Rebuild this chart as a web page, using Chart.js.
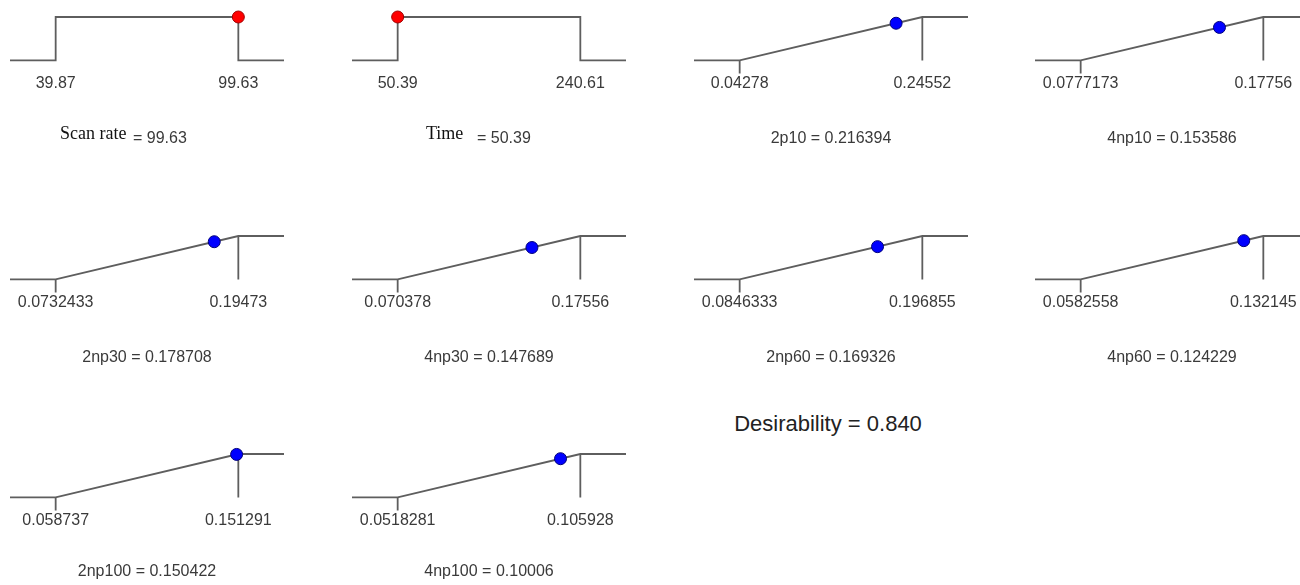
<!DOCTYPE html>
<html>
<head>
<meta charset="utf-8">
<script src="https://cdn.jsdelivr.net/npm/chart.js@4.4.1/dist/chart.umd.min.js"></script>
<style>
  html, body { margin: 0; padding: 0; background: #ffffff; }
  body { width: 1300px; height: 585px; overflow: hidden; position: relative; }
  canvas.panel { position: absolute; }
  #desirability {
    position: absolute; white-space: nowrap;
    font-family: Arial, "Liberation Sans", sans-serif; font-size: 22px; line-height: 22px;
    color: #222222; transform: translateX(-50%);
  }
</style>
</head>
<body>
<div id="desirability"></div>
<script>
// ---------------- data ----------------
const factorNames  = ["Scan rate", "Time", "2p10", "4np10", "2np30", "4np30", "2np60", "4np60", "2np100", "4np100"];
const goals        = ["range", "range", "maximize", "maximize", "maximize", "maximize", "maximize", "maximize", "maximize", "maximize"];
const lowLimits    = [39.87, 50.39, 0.04278, 0.0777173, 0.0732433, 0.070378, 0.0846333, 0.0582558, 0.058737, 0.0518281];
const highLimits   = [99.63, 240.61, 0.24552, 0.17756, 0.19473, 0.17556, 0.196855, 0.132145, 0.151291, 0.105928];
const optimumValues= [99.63, 50.39, 0.216394, 0.153586, 0.178708, 0.147689, 0.169326, 0.124229, 0.150422, 0.10006];
const lowLabels    = ["39.87", "50.39", "0.04278", "0.0777173", "0.0732433", "0.070378", "0.0846333", "0.0582558", "0.058737", "0.0518281"];
const highLabels   = ["99.63", "240.61", "0.24552", "0.17756", "0.19473", "0.17556", "0.196855", "0.132145", "0.151291", "0.105928"];
const valueLabels  = ["99.63", "50.39", "0.216394", "0.153586", "0.178708", "0.147689", "0.169326", "0.124229", "0.150422", "0.10006"];
const overallDesirabilityLabel = "0.840";

// ---------------- style / layout ----------------
const SANS = 'Arial, "Liberation Sans", sans-serif';
const SERIF = '"Times New Roman", "Liberation Serif", serif';
const PAD_L = 30, PAD_R = 30, PAD_T = 12, PAD_B = 4;
const AREA_W = 274, AREA_H = 43;
const EXT = 0.25;                 // horizontal extension of the response line beyond the limits
const colLefts = [10, 352, 694, 1035];
const rowTops = [17, 236, 454];
const rowTitleGap = [78, 78, 74]; // chart-area bottom to title centre
const TICK_PAD = 14, TICK_FONT = 16, TITLE_FONT = 16;
const TEXT_COLOR = "#3a3a3a";
const LINE_COLOR = "#5e5e5e";
const redDot = { fill: "#ff0000", border: "#a00000" };
const blueDot = { fill: "#0000ff", border: "#00007a" };
const splitTitleStyle = {
  "Scan rate": { nameDx: 50, nameDy: -4, valueDx: 123, nameSize: 18 },
  "Time":      { nameDx: 74, nameDy: -4, valueDx: 125, nameSize: 18 }
};
const desirabilityPos = { x: 828, y: 413 };

// plugin for titles mixing a serif name and a sans value
const splitTitlePlugin = {
  id: "splitTitle",
  afterDraw(chart, args, opts) {
    if (!opts || !opts.name) return;
    const ctx = chart.ctx, a = chart.chartArea;
    const cy = a.bottom + opts.gap;
    ctx.save();
    ctx.textBaseline = "middle";
    ctx.textAlign = "left";
    ctx.fillStyle = "#111111";
    ctx.font = opts.nameSize + "px " + SERIF;
    ctx.fillText(opts.name, a.left + opts.nameDx, cy + opts.nameDy);
    ctx.fillStyle = TEXT_COLOR;
    ctx.font = TITLE_FONT + "px " + SANS;
    ctx.fillText(opts.value, a.left + opts.valueDx, cy);
    ctx.restore();
  }
};

function buildPanel(i) {
  const col = i % 4, row = Math.floor(i / 4);
  const low = lowLimits[i], high = highLimits[i], span = high - low;
  const xmin = low - EXT * span, xmax = high + EXT * span;
  const v = optimumValues[i];
  const isRange = goals[i] === "range";
  const d = isRange ? 1 : (v - low) / span;

  const datasets = [];
  if (isRange) {
    datasets.push({ data: [{x: xmin, y: 0}, {x: low, y: 0}, {x: low, y: 1}, {x: high, y: 1}, {x: high, y: 0}, {x: xmax, y: 0}] });
  } else {
    datasets.push({ data: [{x: xmin, y: 0}, {x: low, y: 0}, {x: high, y: 1}, {x: xmax, y: 1}] });
    datasets.push({ data: [{x: low, y: 0}, {x: low, y: -0.3}] });
    datasets.push({ data: [{x: high, y: 1}, {x: high, y: 0}] });
  }
  datasets.forEach(ds => Object.assign(ds, {
    showLine: true, borderColor: LINE_COLOR, borderWidth: 1.8, pointRadius: 0,
    tension: 0, clip: false, order: 2
  }));
  const dot = isRange ? redDot : blueDot;
  datasets.push({
    data: [{x: v, y: d}], showLine: false, pointRadius: 6, pointHoverRadius: 6,
    pointBackgroundColor: dot.fill, pointBorderColor: dot.border, pointBorderWidth: 1,
    clip: false, order: 1
  });

  const split = splitTitleStyle[factorNames[i]];
  const gap = rowTitleGap[row];
  const tickAxisH = TICK_PAD * 2 + TICK_FONT * 1.2;
  const titleLH = TITLE_FONT * 1.2;
  const titlePadTop = gap - tickAxisH - titleLH / 2;
  const H = Math.round(PAD_T + AREA_H + tickAxisH + titleLH + titlePadTop + PAD_B);

  const canvas = document.createElement("canvas");
  canvas.className = "panel";
  const W = AREA_W + PAD_L + PAD_R;
  canvas.width = W; canvas.height = H;
  canvas.style.width = W + "px"; canvas.style.height = H + "px";
  canvas.style.left = (colLefts[col] - PAD_L) + "px";
  canvas.style.top = (rowTops[row] - PAD_T) + "px";
  document.body.appendChild(canvas);

  new Chart(canvas, {
    type: "scatter",
    data: { datasets },
    plugins: [splitTitlePlugin],
    options: {
      responsive: false, animation: false, devicePixelRatio: 1,
      layout: { padding: { left: PAD_L, right: PAD_R, top: PAD_T, bottom: PAD_B } },
      plugins: {
        legend: { display: false }, tooltip: { enabled: false },
        splitTitle: split ? { name: factorNames[i], value: "= " + valueLabels[i], gap,
                              nameDx: split.nameDx, nameDy: split.nameDy, valueDx: split.valueDx, nameSize: split.nameSize } : {}
      },
      scales: {
        x: {
          type: "linear", position: "bottom", weight: 0, min: xmin, max: xmax,
          grid: { display: false, drawTicks: false }, border: { display: false },
          afterBuildTicks: s => { s.ticks = [{ value: low }, { value: high }]; },
          ticks: {
            padding: TICK_PAD, autoSkip: false, maxRotation: 0, minRotation: 0,
            color: TEXT_COLOR, font: { family: SANS, size: TICK_FONT },
            callback: (val) => (Math.abs(val - low) < Math.abs(val - high) ? lowLabels[i] : highLabels[i])
          }
        },
        xTitle: {
          type: "linear", axis: "x", position: "bottom", weight: 1, min: xmin, max: xmax,
          grid: { display: false, drawTicks: false }, border: { display: false },
          ticks: { display: false },
          title: {
            display: true, text: split ? "" : factorNames[i] + " = " + valueLabels[i],
            color: TEXT_COLOR, font: { family: SANS, size: TITLE_FONT },
            padding: { top: titlePadTop, bottom: 0 }
          }
        },
        y: { display: false, min: 0, max: 1 }
      }
    }
  });
}

for (let i = 0; i < factorNames.length; i++) buildPanel(i);

const dEl = document.getElementById("desirability");
dEl.textContent = "Desirability = " + overallDesirabilityLabel;
dEl.style.left = desirabilityPos.x + "px";
dEl.style.top = desirabilityPos.y + "px";
</script>
</body>
</html>
